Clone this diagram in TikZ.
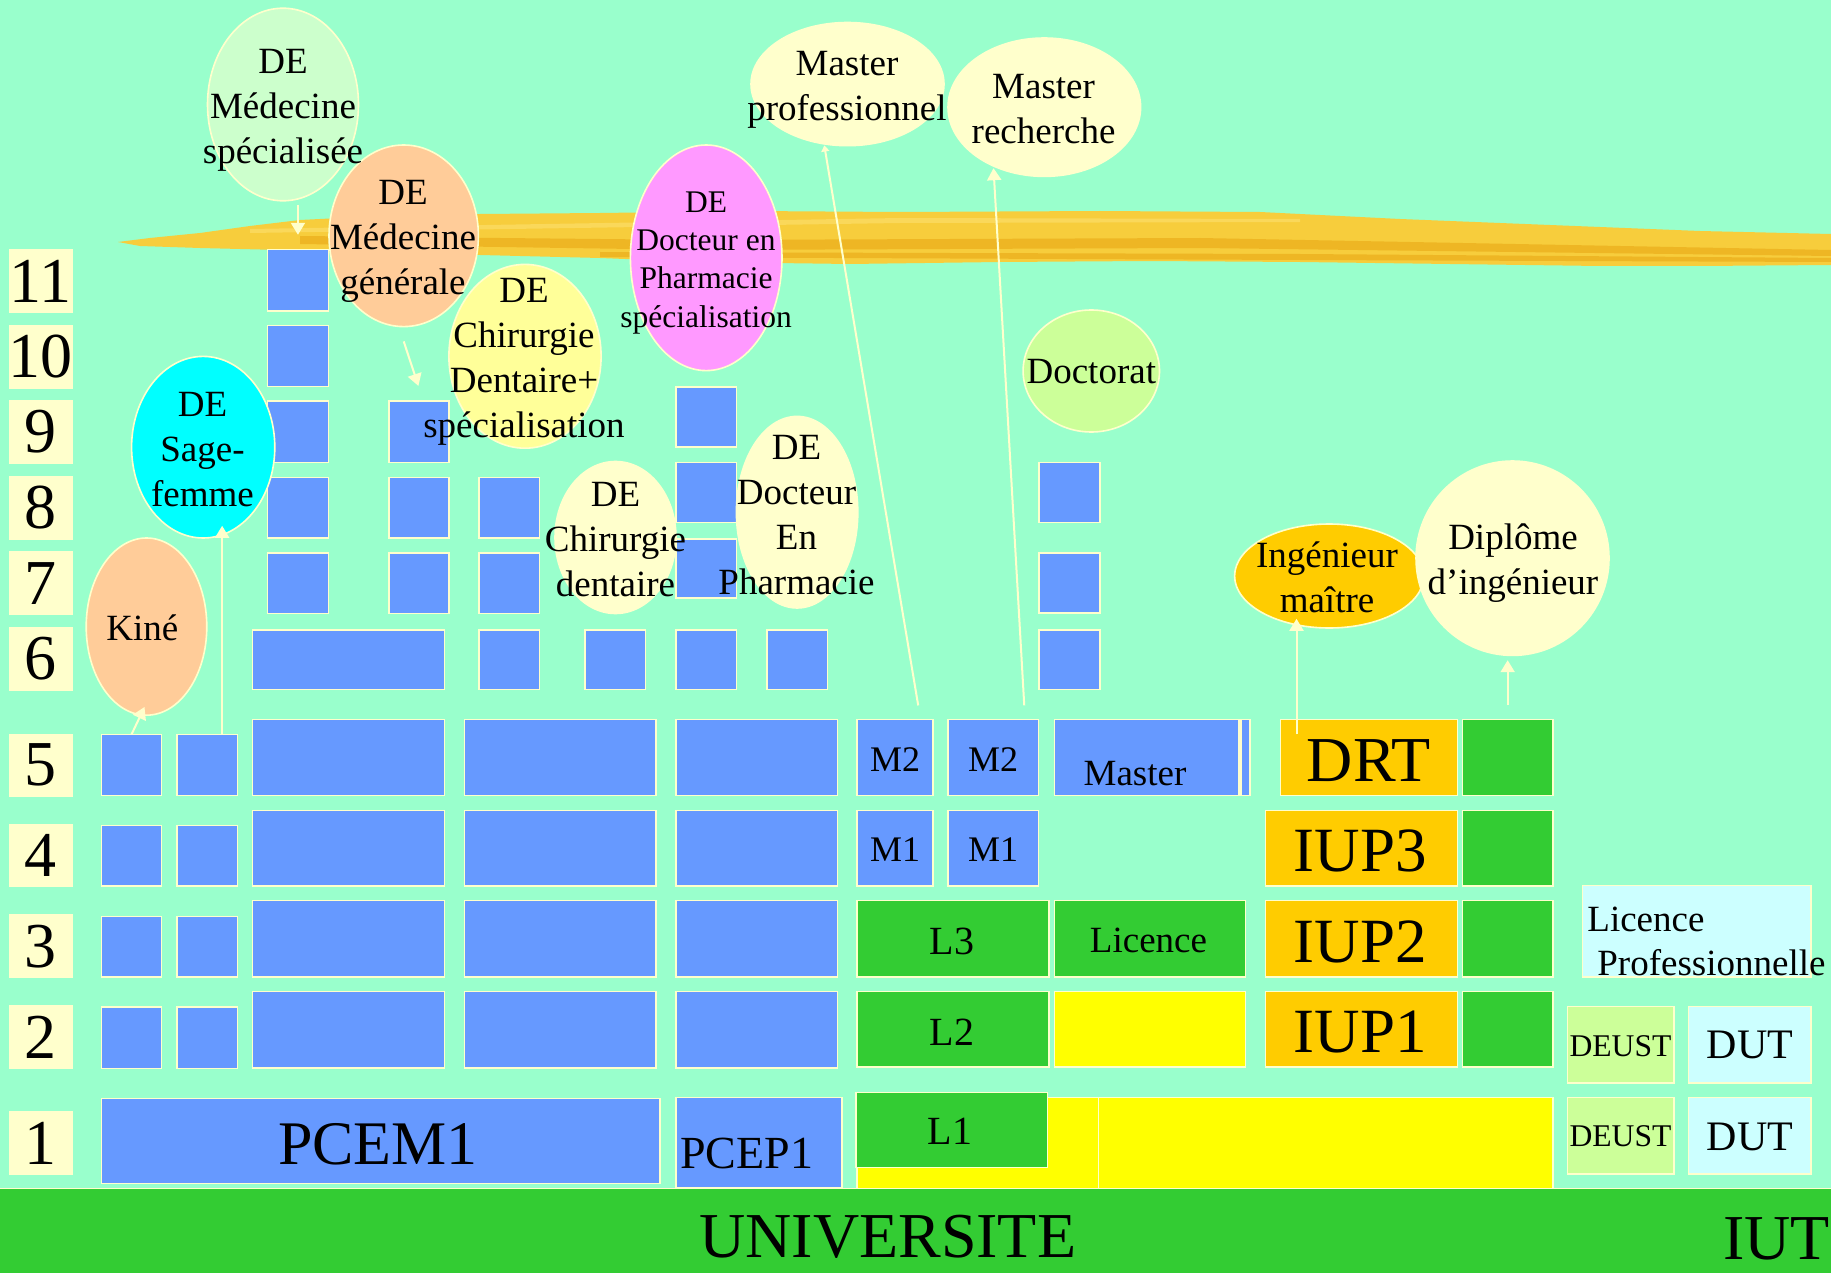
\documentclass[tikz,border=0pt]{standalone}
\usepackage{fontspec}
\setmainfont{Liberation Serif}
\usetikzlibrary{shapes.geometric,arrows.meta}
\definecolor{bg}{HTML}{99FFCC}
\definecolor{cream}{HTML}{FFFFCC}
\definecolor{bluebox}{HTML}{6699FF}
\definecolor{grn}{HTML}{33CC33}
\definecolor{yel}{HTML}{FFFF00}
\definecolor{orng}{HTML}{FFCC00}
\definecolor{lcyan}{HTML}{CCFFFF}
\definecolor{lime}{HTML}{CCFF99}
\definecolor{mint}{HTML}{CCFFCC}
\definecolor{peach}{HTML}{FFCC99}
\definecolor{lyel}{HTML}{FFFF99}
\definecolor{aqua}{HTML}{00FFFF}
\definecolor{pink}{HTML}{FF99FF}
\definecolor{brushA}{RGB}{247,205,60}
\definecolor{brushB}{RGB}{238,182,36}
\definecolor{brushC}{RGB}{250,216,90}
\newcommand\rbox[6]{\node[#2,anchor=north west,minimum width={(#5-#3)*0.5pt},minimum height={(#6-#4)*0.5pt}] (#1) at (#3,#4) {};}
\begin{document}
\begin{tikzpicture}[x=0.5pt,y=-0.5pt,
  box/.style={draw=cream,line width=0.7pt,inner sep=0,outer sep=0},
  blue/.style={box,fill=bluebox},
  green/.style={box,fill=grn},
  yellow/.style={box,fill=yel},
  orange/.style={box,fill=orng},
  cyanbox/.style={box,fill=lcyan},
  limebox/.style={box,fill=lime},
  lbl/.style={box,fill=cream},
  ell/.style={ellipse,draw=cream,line width=0.8pt,inner sep=0},
  tx/.style={inner sep=0,text=black},
  t37/.style={tx,align=center,font=\fontsize{18.5pt}{22.5pt}\selectfont},
  t32/.style={tx,align=center,font=\fontsize{15.75pt}{19.1pt}\selectfont},
  dig/.style={tx,font=\fontsize{32pt}{38pt}\selectfont},
  big/.style={tx,font=\fontsize{32pt}{38pt}\selectfont},
  arr/.style={draw=cream,line width=1pt,-{Triangle[length=6pt,width=7pt]}},
  arrs/.style={draw=cream,line width=1pt,-{Triangle[length=3pt,width=4pt]}}]
\useasboundingbox (0,0) rectangle (1831,1273);
\fill[bg] (0,0) rectangle (1831,1273);
% brush stroke
\fill[brushA] (118,242) -- (150,238) -- (200,233) -- (250,226) -- (300,220) -- (380,216) -- (480,214) -- (600,213) -- (750,211) -- (900,212) -- (1100,211) -- (1260,212) -- (1300,214) -- (1400,219) -- (1500,223) -- (1600,227) -- (1700,231) -- (1831,234) -- (1831,265) -- (1700,266) -- (1600,266) -- (1450,264) -- (1300,262) -- (1150,261) -- (1000,262) -- (850,264) -- (700,262) -- (600,258) -- (480,255) -- (380,253) -- (280,250) -- (200,248) -- (140,246) -- cycle;
\fill[brushB] (300,236) -- (700,240) -- (1200,238) -- (1831,250) -- (1831,256) -- (1200,248) -- (700,250) -- (300,244) -- cycle;
\fill[brushB] (600,252) -- (1300,254) -- (1831,258) -- (1831,262) -- (1300,260) -- (600,257) -- cycle;
\fill[brushC] (250,229) -- (900,218) -- (1300,219) -- (1300,222) -- (900,223) -- (250,233) -- cycle;
% row labels
\rbox{n11}{lbl}{9.5}{249.8}{72}{312.2}
\rbox{n10}{lbl}{9.5}{325.3}{72}{387.8}
\rbox{n9}{lbl}{9.5}{400.8}{72}{463.3}
\rbox{n8}{lbl}{9.5}{476.3}{72}{538.8}
\rbox{n7}{lbl}{9.5}{551.8}{72}{614.3}
\rbox{n6}{lbl}{9.5}{627.8}{72}{690.3}
\rbox{n5}{lbl}{9.5}{734.2}{72}{796.1}
\rbox{n4}{lbl}{9.5}{824.4}{72}{886.7}
\rbox{n3}{lbl}{9.5}{915}{72}{977.7}
\rbox{n2}{lbl}{9.5}{1006}{72}{1068.4}
\rbox{n1}{lbl}{9.5}{1111.8}{72}{1174.6}
\foreach \n in {1,...,11} {\node[dig] at (n\n) {\n};}
% small columns A, B
\rbox{A5}{blue}{101.2}{734.6}{161.7}{795.3}
\rbox{A4}{blue}{101.2}{825.6}{161.7}{886}
\rbox{A3}{blue}{101.2}{916.2}{161.7}{977}
\rbox{A2}{blue}{101.2}{1006.9}{161.7}{1068.4}
\rbox{B5}{blue}{177.1}{734.6}{237.2}{795.3}
\rbox{B4}{blue}{177.1}{825.6}{237.2}{886}
\rbox{B3}{blue}{177.1}{916.2}{237.2}{977}
\rbox{B2}{blue}{177.1}{1006.9}{237.2}{1068.4}
% big columns C, D, E
\rbox{C5}{blue}{252.7}{719.4}{444.4}{795.3}
\rbox{C4}{blue}{252.7}{810.4}{444.4}{886}
\rbox{C3}{blue}{252.7}{900.7}{444.4}{977}
\rbox{C2}{blue}{252.7}{991.7}{444.4}{1068}
\rbox{D5}{blue}{464.2}{719.4}{656.1}{795.3}
\rbox{D4}{blue}{464.2}{810.4}{656.1}{886}
\rbox{D3}{blue}{464.2}{900.7}{656.1}{977}
\rbox{D2}{blue}{464.2}{991.7}{656.1}{1068}
\rbox{E5}{blue}{675.9}{719.4}{837.2}{795.3}
\rbox{E4}{blue}{675.9}{810.4}{837.2}{886}
\rbox{E3}{blue}{675.9}{900.7}{837.2}{977}
\rbox{E2}{blue}{675.9}{991.7}{837.2}{1068}
% row 6
\rbox{C6}{blue}{252.7}{630}{444.4}{689.5}
\rbox{R6a}{blue}{479}{630}{539.7}{689.5}
\rbox{R6b}{blue}{585}{630}{645.5}{689.5}
\rbox{R6c}{blue}{676}{630}{736.4}{689.5}
\rbox{R6d}{blue}{767}{630}{827.4}{689.5}
\rbox{Dc6}{blue}{1039}{630}{1100}{689.5}
\rbox{Dc7}{blue}{1039}{553}{1100}{613}
\rbox{Dc8}{blue}{1039}{462.5}{1100}{522.5}
% upper columns
\rbox{C11}{blue}{267.7}{249.8}{328.2}{311}
\rbox{C10}{blue}{267.7}{325.3}{328.2}{386.6}
\rbox{C9}{blue}{267.7}{400.9}{328.2}{462.5}
\rbox{C8}{blue}{267.7}{477.6}{328.2}{538}
\rbox{C7}{blue}{267.7}{553}{328.2}{613.5}
\rbox{Cb9}{blue}{389}{400.9}{449}{462.5}
\rbox{Cb8}{blue}{389}{477.6}{449}{538}
\rbox{Cb7}{blue}{389}{553}{449}{613.5}
\rbox{Cc8}{blue}{479}{477.6}{539.7}{538}
\rbox{Cc7}{blue}{479}{553}{539.7}{613.5}
\rbox{P9}{blue}{676}{387}{736.4}{447}
\rbox{P8}{blue}{676}{462.5}{736.4}{522.5}
\rbox{P7}{blue}{676}{538.8}{736.4}{598}
% masters
\rbox{M2a}{blue}{857}{719.4}{933}{795.3}
\rbox{M2b}{blue}{948}{719.4}{1038.5}{795.3}
\rbox{Mst}{blue}{1054.3}{719.4}{1239}{795.3}
\rbox{Msl}{blue}{1241}{719.4}{1250}{795.3}
\rbox{M1a}{blue}{857}{810.4}{933}{886}
\rbox{M1b}{blue}{948}{810.4}{1038.5}{886}
% licence
\rbox{L3}{green}{857}{900.7}{1048.8}{977}
\rbox{Lic}{green}{1054.3}{900.7}{1245.6}{977}
\rbox{L2}{green}{857}{991.7}{1048.8}{1067}
\rbox{Y2}{yellow}{1054.3}{991.7}{1245.6}{1067}
\rbox{Y1a}{yellow}{857}{1097.5}{1098.5}{1188.5}
\rbox{Y1b}{yellow}{1098.5}{1097.5}{1553}{1188.5}
\rbox{L1}{green}{856}{1092.6}{1047.2}{1167.2}
% first year medicine / pharmacy
\rbox{PCEM}{blue}{101.2}{1098.3}{660}{1183.6}
\rbox{PCEP}{blue}{675.9}{1097.5}{842}{1188}
% IUP
\rbox{DRT}{orange}{1280.5}{719.4}{1457.5}{795.3}
\rbox{IUP3}{orange}{1265.4}{810.4}{1457.5}{886}
\rbox{IUP2}{orange}{1265.4}{900.7}{1457.5}{977}
\rbox{IUP1}{orange}{1265.4}{991.7}{1457.5}{1067}
\rbox{G5}{green}{1462.3}{719.4}{1553}{795.3}
\rbox{G4}{green}{1462.3}{810.4}{1553}{886}
\rbox{G3}{green}{1462.3}{900.7}{1553}{977}
\rbox{G2}{green}{1462.3}{991.7}{1553}{1067}
% IUT
\rbox{LP}{cyanbox}{1582.2}{885.5}{1811}{977}
\rbox{DE2}{limebox}{1567.2}{1006.5}{1674}{1083}
\rbox{DU2}{cyanbox}{1688.4}{1006.5}{1811}{1083}
\rbox{DE1}{limebox}{1567.2}{1097.5}{1674}{1173.8}
\rbox{DU1}{cyanbox}{1688.4}{1097.5}{1811}{1173.8}
% bottom band
\rbox{band}{green}{-3}{1188.5}{1834}{1276}
% ellipses
\node[ell,fill=mint,minimum width=75.5pt,minimum height=96.3pt] (MS) at (283,104.5) {};
\node[ell,fill=peach,minimum width=74.7pt,minimum height=90.8pt] (MG) at (403.7,235.8) {};
\node[ell,fill=lyel,minimum width=76.1pt,minimum height=91.9pt] (CDp) at (525,356.3) {};
\node[ell,fill=aqua,minimum width=71.6pt,minimum height=90.8pt] (SF) at (203.2,447.2) {};
\node[ell,fill=peach,minimum width=60.3pt,minimum height=88.6pt] (Kine) at (146.5,626.6) {};
\node[ell,fill=pink,minimum width=75.8pt,minimum height=112.8pt] (PS) at (706.2,257.8) {};
\node[ell,fill=cream,minimum width=60.7pt,minimum height=95.8pt] (DP) at (797.1,512.2) {};
\node[ell,fill=cream,minimum width=60.5pt,minimum height=76pt] (CD) at (615.5,537.5) {};
\node[ell,fill=cream,minimum width=96.5pt,minimum height=61.6pt] (MP) at (847.5,84.1) {};
\node[ell,fill=cream,minimum width=96.3pt,minimum height=69.2pt] (MR) at (1044.3,107.2) {};
\node[ell,fill=lime,minimum width=68.2pt,minimum height=61pt] (Doc) at (1091.3,371) {};
\node[ell,fill=orng,minimum width=94.6pt,minimum height=52pt] (IM) at (1329.2,576) {};
\node[ell,fill=cream,minimum width=96.5pt,minimum height=97.2pt] (DI) at (1512.5,558.2) {};
% connectors
\draw[arr,shorten <=1.6pt,shorten >=7.5pt] (MS.south -| C11.north) -- (C11.north);
\draw[arr] ([yshift=-7pt]MG.south) -- ([xshift=-0.3pt,yshift=7.5pt]Cb9.north);
\draw[arr] ([xshift=7.5pt]B5.north) -- ([xshift=7.5pt,yshift=6.5pt]B5.north |- SF.south);
\draw[arr] (A5.north) -- ([xshift=-1pt,yshift=4.5pt]Kine.south);
\draw[arrs] ([xshift=11.6pt,yshift=7pt]M2a.north) -- ([xshift=-11.6pt,yshift=0.5pt]MP.south);
\draw[arr] ([xshift=15.5pt,yshift=7pt]M2b.north) -- ([xshift=-25.4pt,yshift=4.5pt]MR.south);
\draw[arr] ([xshift=8pt,yshift=-7.5pt]DRT.north west) -- ([xshift=8pt,yshift=5pt]DRT.north west |- IM.south);
\draw[arr] ([yshift=7pt]G5.north) -- ([yshift=-2pt]G5.north |- DI.south);
% ellipse texts
\node[t37,anchor=north] at (283,49.3) {DE\\Médecine\\spécialisée};
\node[t37,anchor=north] at (403,179.8) {DE\\Médecine\\générale};
\node[t37,anchor=north] at (524,277.8) {DE\\Chirurgie\\Dentaire+\\spécialisation};
\node[t37,anchor=north] at (202.5,391.4) {DE\\Sage-\\femme};
\node[t37,anchor=base] at (142.3,640) {Kiné};
\node[t32,anchor=north] at (706,191.4) {DE\\Docteur en\\Pharmacie\\spécialisation};
\node[t37,anchor=north] at (796.5,434.8) {DE\\Docteur\\En\\Pharmacie};
\node[t37,anchor=north] at (615.5,481.8) {DE\\Chirurgie\\dentaire};
\node[t37,anchor=north] at (847,51.3) {Master\\professionnel};
\node[t37,anchor=north] at (1043.6,73.8) {Master\\recherche};
\node[t37,anchor=base] at (1091.3,383.7) {Doctorat};
\node[t37,anchor=north] at (1327,541.3) {Ingénieur\\maître};
\node[t37,anchor=north] at (1513,523.7) {Diplôme\\d’ingénieur};
% box texts
\node[tx,anchor=base,font=\fontsize{31pt}{36pt}\selectfont] at (378,1164) {PCEM1};
\node[tx,anchor=base,font=\fontsize{23pt}{28pt}\selectfont] at (746.8,1168) {PCEP1};
\node[tx,anchor=base,font=\fontsize{18pt}{22pt}\selectfont] at (895,771.5) {M2};
\node[tx,anchor=base,font=\fontsize{18pt}{22pt}\selectfont] at (993,771.5) {M2};
\node[tx,anchor=base,font=\fontsize{18pt}{22pt}\selectfont] at (895,861.7) {M1};
\node[tx,anchor=base,font=\fontsize{18pt}{22pt}\selectfont] at (993,861.7) {M1};
\node[t37,anchor=base] at (1135,785.8) {Master};
\node[tx,anchor=base,font=\fontsize{20pt}{24pt}\selectfont] at (952,954) {L3};
\node[tx,anchor=base,font=\fontsize{20pt}{24pt}\selectfont] at (952,1045) {L2};
\node[tx,anchor=base,font=\fontsize{20pt}{24pt}\selectfont] at (950,1144) {L1};
\node[t37,anchor=base] at (1148.5,952) {Licence};
\node[big,anchor=base] at (1369,781) {DRT};
\node[tx,anchor=base,font=\fontsize{31.5pt}{36pt}\selectfont] at (1360.4,871) {IUP3};
\node[tx,anchor=base,font=\fontsize{31.5pt}{36pt}\selectfont] at (1360.4,962) {IUP2};
\node[tx,anchor=base,font=\fontsize{31.5pt}{36pt}\selectfont] at (1360.4,1052.4) {IUP1};
\node[t37,anchor=base west] at (1587,931.4) {Licence};
\node[t37,anchor=base west] at (1597,975) {Professionnelle};
\node[tx,anchor=base,font=\fontsize{15.8pt}{19pt}\selectfont] at (1620.5,1056.5) {DEUST};
\node[tx,anchor=base,font=\fontsize{15.8pt}{19pt}\selectfont] at (1620.5,1146.7) {DEUST};
\node[tx,anchor=base,font=\fontsize{21pt}{25pt}\selectfont] at (1750,1058.6) {DUT};
\node[tx,anchor=base,font=\fontsize{21pt}{25pt}\selectfont] at (1750,1150) {DUT};
\node[big,anchor=base] at (887.7,1257.5) {UNIVERSITE};
\node[big,anchor=base west] at (1722.8,1259.5) {IUT};
\end{tikzpicture}
\end{document}
